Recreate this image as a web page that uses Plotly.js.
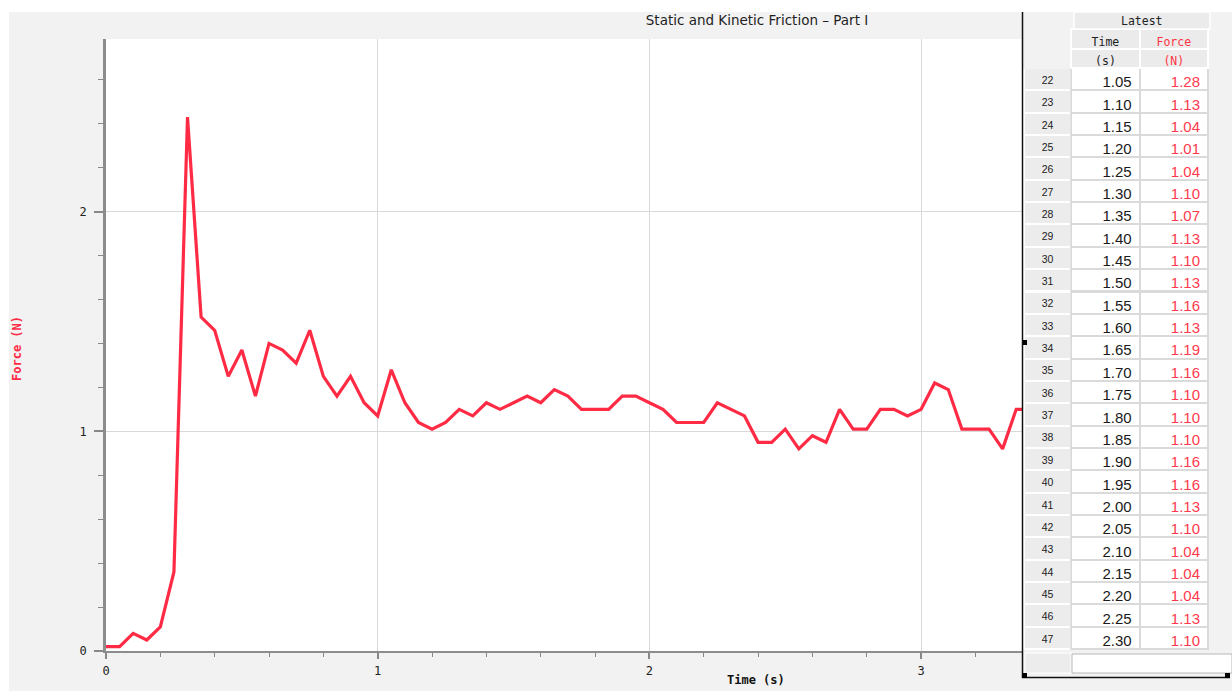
<!DOCTYPE html>
<html>
<head>
<meta charset="utf-8">
<script src="https://cdn.plot.ly/plotly-3.0.1.min.js"></script>
<style>
html,body{margin:0;padding:0;background:#ffffff;}
#chart{width:1232px;height:691px;}
</style>
</head>
<body>
<div id="chart"></div>
<script>
// ---- data ----
const timeS = [0.00,0.05,0.10,0.15,0.20,0.25,0.30,0.35,0.40,0.45,
               0.50,0.55,0.60,0.65,0.70,0.75,0.80,0.85,0.90,0.95,
               1.00,1.05,1.10,1.15,1.20,1.25,1.30,1.35,1.40,1.45,
               1.50,1.55,1.60,1.65,1.70,1.75,1.80,1.85,1.90,1.95,
               2.00,2.05,2.10,2.15,2.20,2.25,2.30,2.35,2.40,2.45,
               2.50,2.55,2.60,2.65,2.70,2.75,2.80,2.85,2.90,2.95,
               3.00,3.05,3.10,3.15,3.20,3.25,3.30,3.35,3.40];
const forceN = [0.02,0.02,0.08,0.05,0.11,0.36,2.43,1.52,1.46,1.25,
                1.37,1.16,1.40,1.37,1.31,1.46,1.25,1.16,1.25,1.13,
                1.07,1.28,1.13,1.04,1.01,1.04,1.10,1.07,1.13,1.10,
                1.13,1.16,1.13,1.19,1.16,1.10,1.10,1.10,1.16,1.16,
                1.13,1.10,1.04,1.04,1.04,1.13,1.10,1.07,0.95,0.95,
                1.01,0.92,0.98,0.95,1.10,1.01,1.01,1.10,1.10,1.07,
                1.10,1.22,1.19,1.01,1.01,1.01,0.92,1.10,1.10];
const xTickVals = [0,1,2,3];
const yTickVals = [0,1,2];
const chartTitle = 'Static and Kinetic Friction \u2013 Part I';
const xTitle = 'Time (s)';
const yTitle = 'Force (N)';
const tableGroup = 'Latest';
const tableHeaders = [['',''],['Time','(s)'],['Force','(N)']];
const tableFirstRow = 22;
const tableLastRow = 47;

// ---- helpers: pixel -> paper ----
const W = 1232, H = 691;
const X = p => p / W;
const Y = p => 1 - p / H;

// ---- table columns built from the data ----
const rowNums = [], tCol = [], fCol = [];
for (let i = tableFirstRow - 1; i <= tableLastRow - 1; i++) {
  rowNums.push(String(i + 1));
  tCol.push(timeS[i].toFixed(2));
  fCol.push(forceN[i].toFixed(2));
}

const red = '#ff2b45';

const lineTrace = {
  type: 'scatter', mode: 'lines',
  x: timeS, y: forceN,
  line: {color: red, width: 3.2},
  hoverinfo: 'skip', showlegend: false
};

const tableTrace = {
  type: 'table',
  domain: {x: [X(1024), X(1209)], y: [Y(656), Y(29)]},
  columnwidth: [47, 68, 68],
  header: {
    values: tableHeaders,
    height: 19.5,
    align: 'center',
    fill: {color: ['#f2f2f2', '#ebebeb', '#ebebeb']},
    line: {color: ['#f2f2f2', '#ffffff', '#ffffff'], width: 2},
    font: {family: 'DejaVu Sans Mono', size: 11.5, color: ['#222222', '#222222', '#ff3344']}
  },
  cells: {
    values: [rowNums, tCol, fCol],
    height: 22.35,
    align: ['center', 'right', 'right'],
    fill: {color: ['#ececec', '#ffffff', '#ffffff']},
    line: {color: ['#ffffff', '#dadada', '#dadada'], width: 2},
    font: {family: 'Liberation Sans', size: [10.5, 15, 15], color: ['#222222', '#1a1a1a', '#ff3a4c']}
  }
};

const shapes = [
  // white strips around the grey window
  {type:'rect', xref:'paper', yref:'paper', x0:0, x1:1, y0:Y(12), y1:1, fillcolor:'#ffffff', line:{width:0}, layer:'below'},
  {type:'rect', xref:'paper', yref:'paper', x0:0, x1:X(9), y0:0, y1:1, fillcolor:'#ffffff', line:{width:0}, layer:'below'},
  // "Latest" group header cell
  {type:'rect', xref:'paper', yref:'paper', x0:X(1074), x1:X(1210), y0:Y(29), y1:Y(12), fillcolor:'#ebebeb', line:{color:'#ffffff', width:1.5}},
  // empty last row of the table
  {type:'rect', xref:'paper', yref:'paper', x0:X(1025), x1:X(1071), y0:Y(673), y1:Y(653), fillcolor:'#ececec', line:{color:'#ffffff', width:1}},
  {type:'rect', xref:'paper', yref:'paper', x0:X(1072), x1:X(1232), y0:Y(673), y1:Y(654), fillcolor:'#ffffff', line:{color:'#b8b8b8', width:1}},
  // black panel borders
  {type:'line', xref:'paper', yref:'paper', x0:X(1022.5), x1:X(1022.5), y0:Y(678), y1:Y(12), line:{color:'#111111', width:1.5}},
  {type:'line', xref:'paper', yref:'paper', x0:X(1022), x1:X(1230), y0:Y(677.5), y1:Y(677.5), line:{color:'#111111', width:1.5}},
  // resize handles
  {type:'rect', xref:'paper', yref:'paper', x0:X(1022), x1:X(1027), y0:Y(678), y1:Y(673), fillcolor:'#000000', line:{width:0}},
  {type:'rect', xref:'paper', yref:'paper', x0:X(1225), x1:X(1230), y0:Y(678), y1:Y(673), fillcolor:'#000000', line:{width:0}},
  {type:'rect', xref:'paper', yref:'paper', x0:X(1023), x1:X(1027), y0:Y(345), y1:Y(340), fillcolor:'#000000', line:{width:0}}
];

const annotations = [
  {text: xTitle, xref:'paper', yref:'paper', x:X(756), y:Y(680), xanchor:'center', yanchor:'middle', showarrow:false,
   font:{family:'DejaVu Sans Mono', size:12, color:'#111111', weight:'bold'}},
  {text: yTitle, xref:'paper', yref:'paper', x:X(17), y:Y(349), xanchor:'center', yanchor:'middle', showarrow:false, textangle:-90,
   font:{family:'DejaVu Sans Mono', size:12, color:red, weight:'bold'}},
  {text: tableGroup, xref:'paper', yref:'paper', x:X(1142), y:Y(20.5), xanchor:'center', yanchor:'middle', showarrow:false,
   font:{family:'DejaVu Sans Mono', size:11.5, color:'#222222'}}
];

const xMax = (1022 - 106) / 271.7;
const yMax = (651 - 39) / 219.7;

const layout = {
  width: W, height: H,
  margin: {l:0, r:0, t:0, b:0, pad:0},
  paper_bgcolor: '#f2f2f2',
  plot_bgcolor: '#ffffff',
  showlegend: false,
  title: {text: chartTitle, xref:'container', yref:'container', x:X(757), y:Y(20), xanchor:'center', yanchor:'middle',
          font:{family:'DejaVu Sans', size:13.5, color:'#1e1e1e'}},
  xaxis: {
    domain: [X(106), X(1022)], range: [0, xMax], automargin:false,
    tickmode:'array', tickvals: xTickVals, ticktext: xTickVals.map(String),
    ticks:'outside', ticklen:6, tickwidth:1.5, tickcolor:'#888888',
    minor:{dtick:0.2, ticks:'outside', ticklen:4, tickwidth:1.2, tickcolor:'#888888', showgrid:false},
    showline:true, linecolor:'#8c8c8c', linewidth:2,
    showgrid:true, gridcolor:'#d9d9d9', gridwidth:1.3, zeroline:false,
    tickfont:{family:'DejaVu Sans Mono', size:12, color:'#222222'},
    ticklabelstandoff: 2,
    fixedrange:true
  },
  yaxis: {
    domain: [Y(651), Y(39)], range: [0, yMax], automargin:false,
    tickmode:'array', tickvals: yTickVals, ticktext: yTickVals.map(String),
    ticks:'outside', ticklen:9, tickwidth:1.5, tickcolor:'#888888',
    minor:{dtick:0.2, ticks:'outside', ticklen:5, tickwidth:1.2, tickcolor:'#888888', showgrid:false},
    showline:true, linecolor:'#8c8c8c', linewidth:2.5,
    showgrid:true, gridcolor:'#d9d9d9', gridwidth:1.3, zeroline:false,
    tickfont:{family:'DejaVu Sans Mono', size:12, color:'#222222'},
    ticklabelstandoff: 5,
    fixedrange:true
  },
  shapes: shapes,
  annotations: annotations
};

Plotly.newPlot('chart', [lineTrace, tableTrace], layout, {displayModeBar:false, responsive:false});
</script>
</body>
</html>
